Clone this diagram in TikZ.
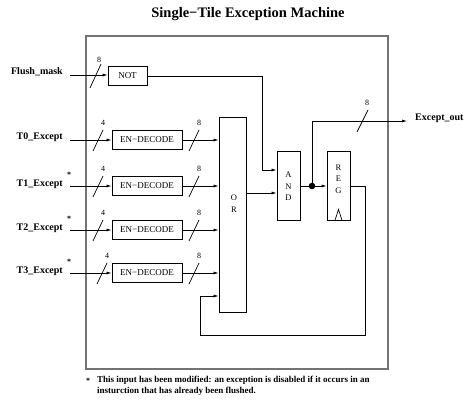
\documentclass[tikz,border=0pt]{standalone}
\usepackage{fontspec}
\setmainfont{Liberation Serif}
\usetikzlibrary{arrows.meta,calc}

\tikzset{
  sig/.style={draw=black, line width=0.7pt},
  arr/.style={sig, -{Latex[length=5pt,width=3pt]}},
  frame/.style={draw=black!55, line width=1.1pt},
  unit/.style={draw=black, line width=0.8pt, minimum height=19pt, inner sep=0pt,
               font=\fontsize{9}{10}\selectfont},
  tall/.style={draw=black, line width=0.8pt, minimum width=23pt, minimum height=69pt, inner sep=0pt},
  stack/.style={align=center, font=\fontsize{8.5}{11.5}\selectfont, inner sep=0pt},
  pin/.style={anchor=base east, font=\fontsize{10}{12}\selectfont\bfseries, inner sep=0pt},
  width/.style={font=\fontsize{8}{9}\selectfont, inner sep=0pt},
  star/.style={font=\fontsize{8}{9}\selectfont\bfseries, inner sep=0pt},
  busmark/.style={draw=black, line width=0.7pt},
}

\begin{document}
\begin{tikzpicture}[x=1pt, y=-1pt]
\useasboundingbox (0,0) rectangle (466,401);

% heading
\node[font=\fontsize{14.5}{16}\selectfont\bfseries] (title) at (248,14) {Single−Tile Exception Machine};

% boundary of the machine
\draw[frame] (86,36) rectangle (388,369);

% mask path
\node[unit, minimum width=39pt] (not) at (127.5,76) {NOT};

% decoders
\foreach \i/\y in {0/140,1/186,2/230,3/273}{
  \node[unit, minimum width=70pt] (dec\i) at (147,\y) {EN−DECODE};
}

% logic blocks
\node[draw=black, line width=0.8pt, minimum width=27pt, minimum height=195pt, inner sep=0pt] (or) at (232.5,214.5) {};
\node[stack] (ortext) at (234,203.5) {O\\R};
\node[tall] (and) at (288.5,185.5) {};
\node[stack] (andtext) at (288.5,186.5) {A\\N\\D};
\node[tall] (reg) at (338.5,185.5) {};
\node[stack] (regtext) at (338.5,179) {R\\E\\G};
\draw[sig] ($(reg.south)+(-3.5,0)$) -- ++(3.5,-11) -- ++(3.5,11);

% external pins
\node[pin] (flush) at (63,75) {Flush\_mask};
\node[pin] (t0) at (63,140) {T0\_Except};
\node[pin] (t1) at (63,186) {T1\_Except};
\node[pin] (t2) at (63,230) {T2\_Except};
\node[pin] (t3) at (63,273) {T3\_Except};
\node[star] (s1) at (69,175) {*};
\node[star] (s2) at (69,219) {*};
\node[star] (s3) at (69,262) {*};
\node[anchor=base west, font=\fontsize{10}{12}\selectfont\bfseries, inner sep=0pt] (out) at (415,121) {Except\_out};

% input stubs
\coordinate (fin) at (70,75);
\coordinate (in0) at (70,140);
\coordinate (in1) at (70,186);
\coordinate (in2) at (70,230);
\coordinate (in3) at (70,273);

\draw[arr] (fin) -- (not.west |- fin);
\foreach \i in {0,1,2,3}{
  \draw[arr] (in\i) -- (dec\i.west |- in\i);
  \draw[arr] (dec\i.east |- in\i) -- (or.west |- in\i);
}

% bus widths
\draw[busmark] (90,88) -- (101,64);
\node[width] (w0) at (99,60) {8};
\foreach \i/\y/\a in {0/140/98,1/186/98,2/230/98,3/273/102}{
  \draw[busmark] (\a-5,\y+11) -- (\a+5,\y-10);
  \node[width] at (\a+5,\y-17) {4};
  \draw[busmark] (189,\y+11) -- (199,\y-10);
  \node[width] at (199,\y-17) {8};
}

% mask to AND
\coordinate (and1) at ($(and.west)+(0,-15.5)$);
\coordinate (and2) at ($(and.west)+(0,7.5)$);
\draw[arr] (not.east) -| (262,170) -- (and1);
\draw[arr] (or.east |- and2) -- (and2);

% AND output, register and fan-out
\coordinate (dot) at (312,186);
\coordinate (outend) at (407,121);
\draw[sig] (and.east |- dot) -- (dot);
\draw[arr] (dot) -- (reg.west |- dot);
\fill (dot) circle (3.3pt);
\draw[arr] (dot) |- (outend);
\draw[busmark] (357,132) -- (368,110);
\node[width] at (367,103) {8};

% feedback from register into OR
\coordinate (fb) at (or.west |- 0,296);
\draw[arr] (reg.east |- dot) -- (365,186) -- (365,335) -- (200,335) -- (200,296) -- (fb);

% footnote
\node[star, anchor=base] (fstar) at (88,383) {*};
\node[anchor=north west, align=left, inner sep=0pt,
      font=\fontsize{9}{11}\selectfont\bfseries] (note) at (97,376)
  {This input has been modified: an exception is disabled if it occurs in an\\
   insturction that has already been flushed.};
\end{tikzpicture}
\end{document}
